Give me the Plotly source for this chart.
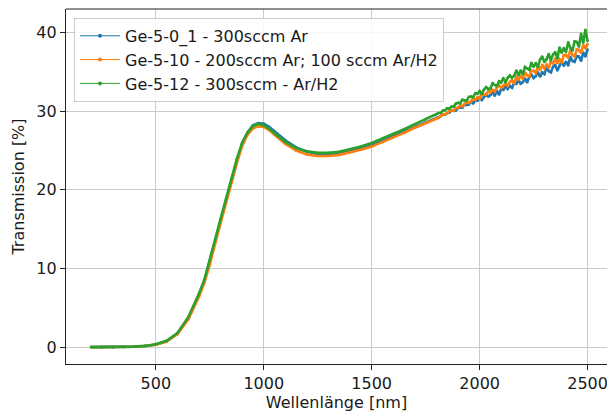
import plotly.graph_objects as go

# Wavelength grid [nm]
wavelength = [
    200, 250, 300, 350, 400, 450, 500, 550, 600, 650, 700, 725, 750, 775, 800,
    825, 850, 875, 900, 925, 950, 975, 1000, 1025, 1050, 1100, 1150, 1200, 1250,
    1300, 1350, 1400, 1450, 1500, 1550, 1600, 1650, 1700, 1750, 1800,
    1810, 1820, 1830, 1840, 1850, 1860, 1870, 1880, 1890, 1900,
    1910, 1920, 1930, 1940, 1950, 1960, 1970, 1980, 1990, 2000,
    2010, 2020, 2030, 2040, 2050, 2060, 2070, 2080, 2090, 2100,
    2110, 2120, 2130, 2140, 2150, 2160, 2170, 2180, 2190, 2200,
    2210, 2220, 2230, 2240, 2250, 2260, 2270, 2280, 2290, 2300,
    2310, 2320, 2330, 2340, 2350, 2360, 2370, 2380, 2390, 2400,
    2410, 2420, 2430, 2440, 2450, 2460, 2470, 2480, 2490, 2500,
]

# Transmission [%] per sample
t_ge_5_0_1 = [
    0.0, 0.0, 0.0, 0.02, 0.06, 0.14, 0.32, 0.75, 1.7, 3.6, 6.6, 8.4, 10.8, 13.5, 16.1,
    18.6, 21.2, 23.7, 25.9, 27.3, 28.2, 28.5, 28.4, 28.0, 27.4, 26.3, 25.4, 24.85, 24.55,
    24.5, 24.6, 24.9, 25.25, 25.65, 26.2, 26.8, 27.4, 28.0, 28.6, 29.15,
    29.21, 29.38, 29.56, 29.56, 29.78, 29.83, 30.10, 30.04, 30.11, 30.43,
    30.49, 30.46, 30.84, 30.79, 30.85, 31.27, 31.01, 31.37, 31.35, 31.70,
    31.42, 31.83, 32.13, 31.86, 32.06, 32.45, 31.97, 32.59, 32.11, 32.85,
    32.73, 33.17, 32.84, 33.23, 32.97, 33.60, 33.48, 33.97, 33.50, 33.69,
    34.17, 33.68, 34.32, 34.67, 34.23, 34.46, 34.94, 34.41, 34.94, 34.73,
    35.57, 35.10, 34.95, 35.64, 35.85, 35.19, 35.81, 36.32, 35.79, 36.30,
    35.83, 36.88, 36.39, 36.28, 37.01, 36.95, 36.41, 37.46, 36.97, 37.85,
]

t_ge_5_10 = [
    0.0, 0.0, 0.0, 0.02, 0.05, 0.13, 0.3, 0.7, 1.65, 3.5, 6.4, 8.2, 10.5, 13.2, 15.8,
    18.3, 20.9, 23.4, 25.6, 27.0, 27.8, 28.1, 28.0, 27.6, 27.0, 25.85, 25.0, 24.5, 24.3,
    24.3, 24.45, 24.75, 25.1, 25.5, 26.05, 26.65, 27.25, 27.9, 28.5, 29.1,
    29.16, 29.40, 29.58, 29.62, 29.74, 30.05, 30.06, 30.10, 30.40, 30.43,
    30.74, 30.61, 30.92, 31.15, 31.06, 31.26, 31.64, 31.44, 31.79, 31.60,
    32.16, 32.13, 32.08, 32.58, 32.39, 32.70, 32.47, 33.05, 33.29, 32.97,
    33.22, 33.61, 33.22, 33.70, 33.94, 33.53, 34.33, 34.04, 34.40, 34.15,
    34.92, 34.56, 34.41, 35.14, 35.15, 34.87, 35.68, 35.23, 35.89, 35.44,
    35.93, 35.55, 36.31, 36.08, 36.71, 36.12, 36.60, 36.18, 37.15, 37.13,
    36.79, 37.73, 37.15, 36.95, 37.85, 37.80, 37.44, 38.39, 38.02, 38.53,
]

t_ge_5_12 = [
    0.0, 0.0, 0.0, 0.02, 0.06, 0.15, 0.35, 0.8, 1.8, 3.8, 6.8, 8.6, 11.0, 13.7, 16.3,
    18.8, 21.4, 23.9, 26.0, 27.3, 28.1, 28.4, 28.2, 27.8, 27.2, 26.1, 25.3, 24.9, 24.7,
    24.7, 24.85, 25.15, 25.5, 25.95, 26.5, 27.1, 27.7, 28.35, 29.0, 29.6,
    29.77, 29.80, 30.08, 30.13, 30.38, 30.34, 30.59, 30.56, 30.96, 31.07,
    31.02, 31.46, 31.34, 31.32, 31.81, 31.87, 31.78, 32.29, 32.21, 32.55,
    32.21, 32.74, 33.06, 32.81, 32.88, 33.55, 33.34, 33.20, 33.80, 33.66,
    34.22, 33.67, 34.25, 34.55, 34.25, 34.50, 35.18, 34.56, 35.18, 34.69,
    35.63, 35.47, 35.26, 36.15, 35.64, 36.12, 35.62, 36.58, 36.94, 36.25,
    36.61, 37.28, 36.46, 37.20, 37.52, 36.71, 38.09, 37.44, 38.03, 37.52,
    38.75, 38.05, 37.70, 38.89, 38.81, 38.22, 39.86, 38.72, 40.36, 38.93,
]

labels = [
    "Ge-5-0_1 - 300sccm Ar",
    "Ge-5-10 - 200sccm Ar; 100 sccm Ar/H2",
    "Ge-5-12 - 300sccm - Ar/H2",
]
colors = ["#1f77b4", "#ff7f0e", "#2ca02c"]
series = [t_ge_5_0_1, t_ge_5_10, t_ge_5_12]

FONT = "DejaVu Sans"
TXT = "#1a1a1a"
FS = 16

fig = go.Figure()

# measured curves, drawn as thick dotted bands
for y, c in zip(series, colors):
    fig.add_trace(go.Scatter(
        x=wavelength, y=y, mode="lines+markers",
        line=dict(color=c, width=2.6),
        marker=dict(color=c, size=2.6),
        showlegend=False, hoverinfo="skip",
    ))

# legend entries with thin line and dot
for lab, c in zip(labels, colors):
    fig.add_trace(go.Scatter(
        x=[None], y=[None], mode="lines+markers", name=lab,
        line=dict(color=c, width=1), marker=dict(color=c, size=4),
    ))

axis_common = dict(
    showgrid=True, gridcolor="#cbcbcb", gridwidth=1,
    showline=True, linecolor="#222222", linewidth=1.2,
    ticks="outside", ticklen=5, tickwidth=1.1, tickcolor="#222222",
    tickfont=dict(family=FONT, size=FS, color=TXT),
    zeroline=False,
)

fig.update_layout(
    width=607, height=414,
    margin=dict(l=66, r=0, t=9, b=50),
    paper_bgcolor="white", plot_bgcolor="white",
    font=dict(family=FONT, size=FS, color=TXT),
    xaxis=dict(
        range=[84, 2590], tickvals=[500, 1000, 1500, 2000, 2500],
        ticklabeloverflow="allow",
        title=dict(text="Wellenlänge [nm]", font=dict(family=FONT, size=FS, color=TXT), standoff=3),
        **axis_common,
    ),
    yaxis=dict(
        range=[-2.15, 43.0], tickvals=[0, 10, 20, 30, 40],
        title=dict(text="Transmission [%]", font=dict(family=FONT, size=FS, color=TXT), standoff=7),
        **axis_common,
    ),
    legend=dict(
        x=0.0148, y=0.975, xanchor="left", yanchor="top",
        bgcolor="rgba(255,255,255,0.85)", bordercolor="#cccccc", borderwidth=1,
        font=dict(family=FONT, size=FS, color=TXT),
        tracegroupgap=0, itemwidth=40,
    ),
    shapes=[dict(type="line", xref="paper", yref="paper", x0=0, x1=1, y0=1, y1=1,
                 line=dict(color="#222222", width=1.2))],
)

fig.write_html("out.html")
